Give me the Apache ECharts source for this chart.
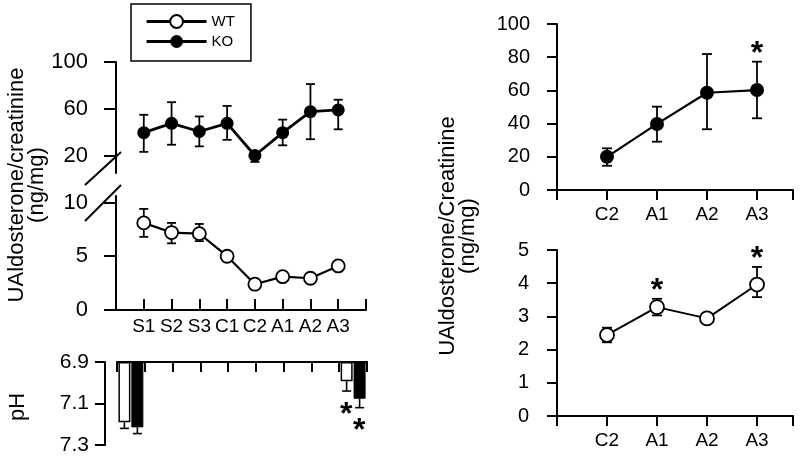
<!DOCTYPE html>
<html><head><meta charset="utf-8">
<script src="https://cdn.jsdelivr.net/npm/echarts@6/dist/echarts.min.js"></script>
<style>html,body{margin:0;padding:0;background:#fff}#c{width:800px;height:456px}</style>
</head><body><div id="c"></div>
<script>
// ---- data ----
const periods = ['S1','S2','S3','C1','C2','A1','A2','A3'];
const koMean = [39.5, 47.5, 40.5, 47.5, 20.0, 39.5, 57.5, 59.0];
const koLow  = [23.1, 29.2, 27.8, 33.4, 14.5, 28.7, 33.9, 42.4];
const koHigh = [54.8, 65.6, 53.4, 62.4, 22.5, 50.7, 81.1, 67.7];
const wtMean = [8.1, 7.2, 7.1, 5.0, 2.4, 3.1, 2.95, 4.1];
const wtLow  = [6.8, 6.2, 6.4, null, null, null, null, null];
const wtHigh = [9.4, 8.1, 8.0, null, null, null, null, null];

const phSlots = ['S', '', '', '', '', '', '', '', 'A3'];
const phWT    = [7.19, null, null, null, null, null, null, null, 6.993];
const phWTErr = [7.22, null, null, null, null, null, null, null, 7.04];
const phKO    = [7.215, null, null, null, null, null, null, null, 7.077];
const phKOErr = [7.245, null, null, null, null, null, null, null, 7.12];
const phSigWT = [null, null, null, null, null, null, null, null, 7.04];
const phSigKO = [null, null, null, null, null, null, null, null, 7.12];

const rightCats = ['C2','A1','A2','A3'];
const rKoMean = [20.0, 39.8, 58.6, 60.2];
const rKoLow  = [14.6, 29.1, 36.6, 43.2];
const rKoHigh = [25.1, 50.2, 81.9, 77.3];
const rKoSig  = [null, null, null, 77.3];
const rWtMean = [2.44, 3.28, 2.94, 3.96];
const rWtLow  = [2.22, 3.03, null, 3.58];
const rWtHigh = [2.66, 3.53, null, 4.49];
const rWtSig  = [null, 3.53, null, 4.49];

const BLACK = '#000';
const FAM = 'Liberation Sans';

function pts(arr){ return arr.map((v,i)=> v==null? null : [i+1, v]).filter(d=>d); }
function errs(lo, hi){ const o=[]; lo.forEach((v,i)=>{ if(v!=null && hi[i]!=null) o.push([i+1, v, hi[i]]); }); return o; }
function errRender(capHalf, lw){
  return function(params, api){
    const x = api.value(0);
    const a = api.coord([x, api.value(1)]), b = api.coord([x, api.value(2)]);
    const st = {stroke: BLACK, lineWidth: lw, fill: null};
    return {type:'group', children:[
      {type:'line', shape:{x1:a[0],y1:a[1],x2:b[0],y2:b[1]}, style:st},
      {type:'line', shape:{x1:a[0]-capHalf,y1:a[1],x2:a[0]+capHalf,y2:a[1]}, style:st},
      {type:'line', shape:{x1:b[0]-capHalf,y1:b[1],x2:b[0]+capHalf,y2:b[1]}, style:st}
    ]};
  };
}
function phErrRender(dx){
  return function(params, api){
    const i = api.value(0);
    const a = api.coord([i, api.value(1)]), b = api.coord([i, api.value(2)]);
    const x = a[0] + dx;
    const st = {stroke: BLACK, lineWidth: 1.6, fill: null};
    return {type:'group', children:[
      {type:'line', shape:{x1:x,y1:a[1],x2:x,y2:b[1]}, style:st},
      {type:'line', shape:{x1:x-4.5,y1:b[1],x2:x+4.5,y2:b[1]}, style:st}
    ]};
  };
}
function starRender(dx, dy){
  return function(params, api){
    const p = api.coord([api.value(0), api.value(1)]);
    return {type:'text', x: p[0]+dx, y: p[1]+dy,
      style:{text:'*', fill:BLACK, font:'bold 32px "Liberation Sans"', align:'center', verticalAlign:'middle', textAlign:'center', textVerticalAlign:'middle'}};
  };
}
function sigPts(arr){ const o=[]; arr.forEach((v,i)=>{ if(v!=null) o.push([i+1, v]); }); return o; }
function sigSlots(arr){ const o=[]; arr.forEach((v,i)=>{ if(v!=null) o.push([i, v]); }); return o; }

// axis label via rich text so the size is applied
function richLab(size, margin, fmt, extra){
  return Object.assign({
    margin: margin, color: BLACK, fontSize: size, fontFamily: FAM,
    formatter: function(v){ const s = fmt ? fmt(v) : String(v); return s === '' ? '' : '{t|' + s + '}'; },
    rich: {t: {fontSize: size, fontFamily: FAM, color: BLACK}}
  }, extra || {});
}

const axisLine = {show:true, lineStyle:{color:BLACK, width:2}};
const tickStyle = {color:BLACK, width:2};

const chart = echarts.init(document.getElementById('c'));
chart.setOption({
  animation:false,
  backgroundColor:'#fff',
  legend:{
    data:['WT','KO'], orient:'vertical', left:131, top:4,
    itemWidth:60, itemHeight:16, itemGap:5,
    padding:[10,16,12,14],
    borderColor:BLACK, borderWidth:1.5,
    textStyle:{fontSize:15, color:BLACK, fontFamily:FAM},
    lineStyle:{width:3.2, color:BLACK},
    selectedMode:false
  },
  grid:[
    {left:116, width:250, top:62, height:111},
    {left:116, width:250, top:196, height:114},
    {left:117, width:250, top:362, height:83},
    {left:557, width:236, top:24, height:166},
    {left:557, width:236, top:250, height:166}
  ],
  xAxis:[
    {gridIndex:0, type:'value', min:0, max:9, show:false},
    {gridIndex:1, type:'value', min:0, max:9, interval:1, axisLine:axisLine,
      axisTick:{show:true, inside:true, length:11, lineStyle:tickStyle}, splitLine:{show:false},
      axisLabel:richLab(19, 7, v=> (v>=1 && v<=8) ? periods[v-1] : '')},
    {gridIndex:2, type:'category', data:phSlots, position:'top', boundaryGap:true, axisLine:axisLine,
      axisTick:{show:true, inside:true, length:10, interval:0, lineStyle:tickStyle}, axisLabel:{show:false}, splitLine:{show:false}},
    {gridIndex:3, type:'value', min:0, max:4.72, axisLine:axisLine, splitLine:{show:false},
      axisTick:{show:true, length:10, lineStyle:tickStyle, customValues:[0,1,2,3,4,4.72]},
      axisLabel:richLab(19, 15, v=>rightCats[Math.round(v)-1], {customValues:[1,2,3,4]})},
    {gridIndex:4, type:'value', min:0, max:4.72, axisLine:axisLine, splitLine:{show:false},
      axisTick:{show:true, length:10, lineStyle:tickStyle, customValues:[0,1,2,3,4,4.72]},
      axisLabel:richLab(19, 15, v=>rightCats[Math.round(v)-1], {customValues:[1,2,3,4]})}
  ],
  yAxis:[
    {gridIndex:0, type:'value', min:5, max:100, offset:13, axisLine:axisLine, splitLine:{show:false},
      axisTick:{show:true, length:12, lineStyle:tickStyle, customValues:[20,60,100]},
      axisLabel:richLab(22, 15, null, {customValues:[20,60,100]})},
    {gridIndex:1, type:'value', min:0, max:10.6, offset:13, axisLine:axisLine, splitLine:{show:false},
      axisTick:{show:true, length:12, lineStyle:tickStyle, customValues:[0,5,10]},
      axisLabel:richLab(22, 15, null, {customValues:[0,5,10]})},
    {gridIndex:2, type:'value', min:6.9, max:7.3, inverse:true, startValue:6.9, offset:12, axisLine:axisLine, splitLine:{show:false},
      axisTick:{show:true, length:10, lineStyle:tickStyle, customValues:[6.9,7.1,7.3]},
      axisLabel:richLab(21, 16, v=>v.toFixed(1), {customValues:[6.9,7.1,7.3]})},
    {gridIndex:3, type:'value', min:0, max:100, interval:20, offset:14, axisLine:axisLine, splitLine:{show:false},
      axisTick:{show:true, length:10, lineStyle:tickStyle},
      axisLabel:richLab(20, 13)},
    {gridIndex:4, type:'value', min:0, max:5, interval:1, offset:14, axisLine:axisLine, splitLine:{show:false},
      axisTick:{show:true, length:10, lineStyle:tickStyle},
      axisLabel:richLab(20, 14)}
  ],
  graphic:[
    {type:'text', x:27, y:185, rotation:Math.PI/2, style:{text:'UAldosterone/creatinine\n(ng/mg)', font:'22px "Liberation Sans"', lineHeight:20, fill:BLACK, align:'center', verticalAlign:'middle', textAlign:'center', textVerticalAlign:'middle'}},
    {type:'text', x:458, y:236, rotation:Math.PI/2, style:{text:'UAldosterone/Creatinine\n(ng/mg)', font:'22px "Liberation Sans"', lineHeight:20, fill:BLACK, align:'center', verticalAlign:'middle', textAlign:'center', textVerticalAlign:'middle'}},
    {type:'text', x:18, y:407, rotation:Math.PI/2, style:{text:'pH', font:'22px "Liberation Sans"', fill:BLACK, align:'center', verticalAlign:'middle', textAlign:'center', textVerticalAlign:'middle'}},
    {type:'line', shape:{x1:85,y1:185,x2:121,y2:152}, style:{stroke:BLACK, lineWidth:2}},
    {type:'line', shape:{x1:85,y1:221,x2:121,y2:185}, style:{stroke:BLACK, lineWidth:2}}
  ],
  series:[
    {type:'custom', xAxisIndex:0, yAxisIndex:0, z:1, data:errs(koLow,koHigh), encode:{x:0,y:[1,2]}, renderItem:errRender(4.5,1.8), silent:true},
    {type:'custom', xAxisIndex:1, yAxisIndex:1, z:1, data:errs(wtLow,wtHigh), encode:{x:0,y:[1,2]}, renderItem:errRender(4.5,1.8), silent:true},
    {type:'custom', xAxisIndex:3, yAxisIndex:3, z:1, data:errs(rKoLow,rKoHigh), encode:{x:0,y:[1,2]}, renderItem:errRender(5,1.8), silent:true},
    {type:'custom', xAxisIndex:4, yAxisIndex:4, z:1, data:errs(rWtLow,rWtHigh), encode:{x:0,y:[1,2]}, renderItem:errRender(5,1.8), silent:true},
    {name:'WT', type:'line', xAxisIndex:1, yAxisIndex:1, z:3, data:pts(wtMean), symbol:'circle', symbolSize:13,
      itemStyle:{color:'#fff', borderColor:BLACK, borderWidth:1.8}, lineStyle:{color:BLACK, width:2.2}},
    {name:'KO', type:'line', xAxisIndex:0, yAxisIndex:0, z:3, data:pts(koMean), symbol:'circle', symbolSize:13,
      itemStyle:{color:BLACK}, lineStyle:{color:BLACK, width:2.8}},
    {name:'KO-r', type:'line', xAxisIndex:3, yAxisIndex:3, z:3, data:pts(rKoMean), symbol:'circle', symbolSize:14,
      itemStyle:{color:BLACK}, lineStyle:{color:BLACK, width:2.2}},
    {name:'WT-r', type:'line', xAxisIndex:4, yAxisIndex:4, z:3, data:pts(rWtMean), symbol:'circle', symbolSize:14,
      itemStyle:{color:'#fff', borderColor:BLACK, borderWidth:1.8}, lineStyle:{color:BLACK, width:2}},
    {name:'pH WT', type:'bar', xAxisIndex:2, yAxisIndex:2, data:phWT, barWidth:12, barGap:'8%',
      itemStyle:{color:'#fff', borderColor:BLACK, borderWidth:1.5}},
    {name:'pH KO', type:'bar', xAxisIndex:2, yAxisIndex:2, data:phKO, barWidth:12, barGap:'8%',
      itemStyle:{color:BLACK, borderColor:BLACK, borderWidth:1}},
    {type:'custom', xAxisIndex:2, yAxisIndex:2, z:3, data:phWT.map((v,i)=>v==null?null:[i,v,phWTErr[i]]).filter(d=>d), encode:{x:0,y:[1,2]}, renderItem:phErrRender(-6.5), silent:true},
    {type:'custom', xAxisIndex:2, yAxisIndex:2, z:3, data:phKO.map((v,i)=>v==null?null:[i,v,phKOErr[i]]).filter(d=>d), encode:{x:0,y:[1,2]}, renderItem:phErrRender(6.5), silent:true},
    {type:'custom', xAxisIndex:3, yAxisIndex:3, z:4, data:sigPts(rKoSig), encode:{x:0,y:1}, renderItem:starRender(0,-8), silent:true},
    {type:'custom', xAxisIndex:4, yAxisIndex:4, z:4, data:sigPts(rWtSig), encode:{x:0,y:1}, renderItem:starRender(0,-8), silent:true},
    {type:'custom', xAxisIndex:2, yAxisIndex:2, z:4, data:sigSlots(phSigWT), encode:{x:0,y:1}, renderItem:starRender(-7,24), silent:true},
    {type:'custom', xAxisIndex:2, yAxisIndex:2, z:4, data:sigSlots(phSigKO), encode:{x:0,y:1}, renderItem:starRender(6,24), silent:true}
  ]
});
</script></body></html>
